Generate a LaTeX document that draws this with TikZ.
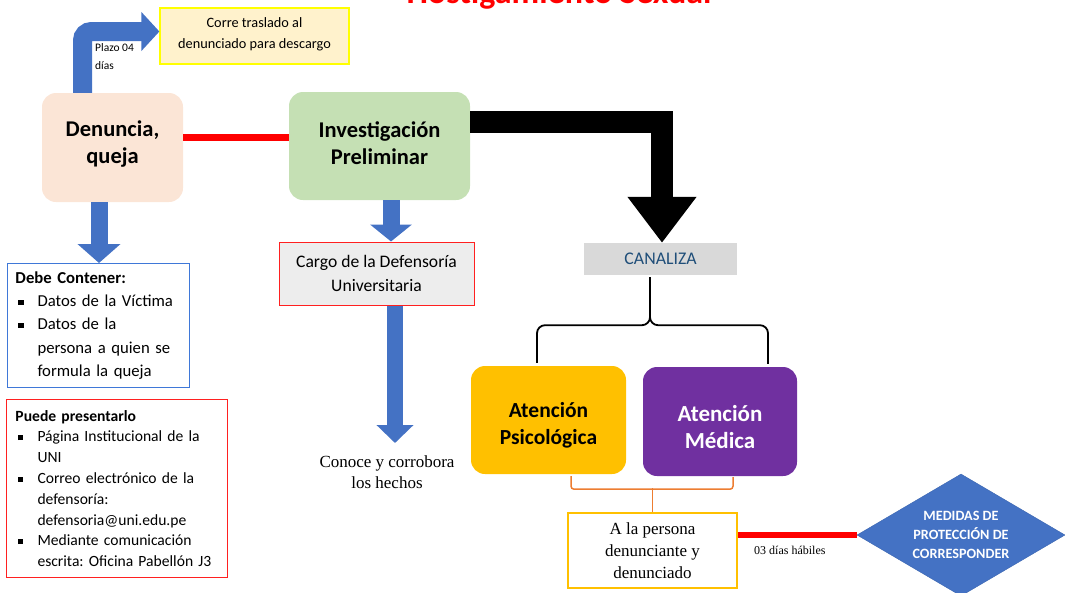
\documentclass[tikz,border=0pt]{standalone}
\usepackage{fontspec}
\setmainfont{Carlito}
\newfontfamily\tnr{Liberation Serif}
\usetikzlibrary{shapes.geometric,calc,arrows.meta}
\definecolor{blueA}{HTML}{4472C4}
\definecolor{blueD}{HTML}{3A65B0}
\definecolor{blueL}{HTML}{3F78D8}
\definecolor{peach}{HTML}{FBE5D6}
\definecolor{lgreen}{HTML}{C5E0B4}
\definecolor{lyellow}{HTML}{FFF2CC}
\definecolor{yellowB}{HTML}{FFFF00}
\definecolor{cargofill}{HTML}{EDEDED}
\definecolor{canfill}{HTML}{D9D9D9}
\definecolor{canblue}{HTML}{1F4E79}
\definecolor{gold}{HTML}{FFC000}
\definecolor{purp}{HTML}{7030A0}
\definecolor{orangeB}{HTML}{ED7D31}
\definecolor{redB}{HTML}{FF2020}
\newcommand\fs[2]{\fontsize{#1}{#2}\selectfont}
\newcommand\sqb{\makebox[22pt][l]{\hspace{3pt}\rule[0.12em]{0.3em}{0.3em}}}
\frenchspacing
\begin{document}
\begin{tikzpicture}[x=1pt,y=-1pt,
  box/.style={rectangle, inner sep=0pt, align=center},
  rbox/.style={box, rounded corners=14pt},
  rtext/.style={box, font=\bfseries\fs{22.5}{27}},
  fat/.style={blueA, line width=17pt, -{Triangle[width=42pt,length=19pt]}},
  redline/.style={red, line width=6.5pt},
  bracel/.style={black, line width=1.8pt, rounded corners=8pt},
  brackor/.style={orangeB, line width=1.5pt, rounded corners=3pt},
]
\useasboundingbox (0,0) rectangle (1065,592);
\clip (0,0) rectangle (1065,592);

\node[font=\bfseries\fs{34}{34}, text=red, anchor=base, inner sep=0pt] (title) at (559,3) {Hostigamiento Sexual};

\node[box, minimum width=189pt, minimum height=56pt, fill=lyellow, draw=yellowB, line width=1.2pt] (corre) at (254.5,36) {};
\node[box, font=\fs{14.3}{21}] (corret) at ([yshift=2pt]corre.center) {Corre traslado al\\denunciado para descargo};

\node[rbox, fill=peach, minimum width=141pt, minimum height=109pt] (den) at (112.5,147.5) {};
\node[rtext] (dent) at ([yshift=3pt]den.center) {Denuncia,\\queja};
\node[rbox, fill=lgreen, minimum width=181pt, minimum height=108pt] (inv) at (379.5,146) {};
\node[rtext] (invt) at ([yshift=2.5pt]inv.center) {Investigación\\Preliminar};

\node[box, fill=cargofill, draw=redB, line width=1pt, minimum width=195pt, minimum height=63pt, font=\fs{17.6}{24}] (cargo) at (376.5,273.5) {Cargo de la Defensoría\\Universitaria};

\node[box, font=\tnr\fs{17}{21}] (conoce) at (387,472) {Conoce y corrobora\\los hechos};

\node[box, fill=canfill, minimum width=153pt, minimum height=32pt, text=canblue, font=\fs{17.8}{18}] (can) at (660.5,259) {CANALIZA};

\node[rbox, fill=gold, minimum width=155pt, minimum height=108pt] (psi) at (548.5,420) {};
\node[rtext, font=\bfseries\fs{21.5}{27}] (psit) at ([yshift=-5pt]psi.center) {Atención\\Psicológica};
\node[rbox, fill=purp, minimum width=154pt, minimum height=109pt] (med) at (720,421.5) {};
\node[rtext, text=white, font=\bfseries\fs{23}{27}] (medt) at ([yshift=-6pt]med.center) {Atención\\Médica};

\node[box, draw=gold, line width=1.5pt, minimum width=169pt, minimum height=75pt, font=\tnr\fs{17}{22}] (per) at (652.5,550.5) {A la persona\\denunciante y\\denunciado};

\node[diamond, aspect=1.7, fill=blueA, draw=blueD, inner sep=0pt, minimum width=208pt, minimum height=122pt, align=center, text=white, font=\bfseries\fs{14.2}{19}] (dia) at (961,535) {MEDIDAS DE\\PROTECCIÓN DE\\CORRESPONDER};

\node[font=\tnr\fs{12}{12}, anchor=west, inner sep=0pt] (dias) at (754,550) {03 días hábiles};

\node[box, anchor=north west, draw=blueL, line width=1pt, text width=166pt, minimum height=124pt, inner xsep=8pt, align=left, font=\fs{16.7}{23.2}] (debe) at (7,263) {\textbf{Debe Contener:}\\\sqb Datos de la Víctima\\\sqb Datos de la\\\hspace*{22pt}persona a quien se\\\hspace*{22pt}formula la queja};

\node[box, anchor=north west, draw=redB, line width=1pt, text width=203pt, minimum height=178pt, inner xsep=9pt, align=left, font=\fs{15.6}{20.8}] (puede) at (6,399) {\textbf{Puede presentarlo}\\\sqb Página Institucional de la\\\hspace*{22pt}UNI\\\sqb Correo electrónico de la\\\hspace*{22pt}defensoría:\\\hspace*{22pt}defensoria@uni.edu.pe\\\sqb Mediante comunicación\\\hspace*{22pt}escrita: Oficina Pabellón J3};

\node[font=\fs{11.5}{18}, align=left, anchor=north west, inner sep=0pt] (plazo) at (95,43) {Plazo 04\\días};

% arrows
\draw[fat, line width=19pt, rounded corners=9pt, -{Triangle[width=38pt,length=18pt]}] ([xshift=-30pt]den.north) |- ([yshift=4.5pt]corre.west);
\draw[fat] ([xshift=-13.5pt]den.south) -- ([xshift=-13.5pt]den.south |- debe.north);
\draw[fat, -{Triangle[width=41pt,length=17pt]}] ([xshift=11.5pt]inv.south) -- ([xshift=11.5pt]inv.south |- cargo.north);
\coordinate (t3) at (395,443);
\draw[fat, line width=16pt, -{Triangle[width=36pt,length=18pt]}] (t3 |- cargo.south) -- (t3);
\draw[black, line width=22pt, line join=miter, -{Triangle[width=66pt,length=46pt]}] ([yshift=24pt]inv.east) -| ([xshift=1.5pt]can.north);

% red links
\draw[redline] ([yshift=10pt]den.east) -- ([yshift=10pt]den.east -| inv.west);
\draw[redline] (dia.west -| per.east) -- (dia.west);

% brace under CANALIZA
\draw[bracel] ([xshift=-10.5pt,yshift=-2pt]can.south) -- ++(0,48) -| ([xshift=-11.5pt,yshift=3pt]psi.north);
\draw[bracel] ([xshift=-10.5pt,yshift=-2pt]can.south) -- ++(0,48) -| ([xshift=48pt,yshift=3pt]med.north);

% orange bracket
\draw[brackor] ([xshift=22.5pt,yshift=-2pt]psi.south) -- ++(0,13) -| ([xshift=13pt,yshift=-1pt]med.south);
\draw[brackor] (per.north) -- ++(0,-24);
\end{tikzpicture}
\end{document}
